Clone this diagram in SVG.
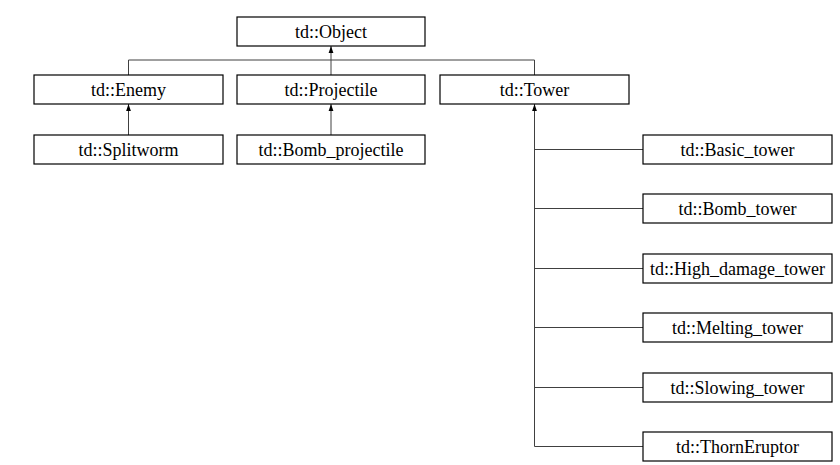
<svg xmlns="http://www.w3.org/2000/svg" width="840" height="465" viewBox="0 0 840 465">
<style>
.box{fill:#fff;stroke:#000;stroke-width:1.2}
.lbl{font-family:"Liberation Serif","DejaVu Serif","Times New Roman",serif;font-size:18px;fill:#000;text-anchor:middle}
.ln{fill:none;stroke:#404040;stroke-width:1}
</style>
<defs>
<marker id="ah" viewBox="0 0 7 6" refX="7" refY="3" markerWidth="7" markerHeight="6" markerUnits="userSpaceOnUse" orient="auto">
<path d="M7,3 L0,0.6 L0,5.4 Z" fill="#000"/>
</marker>
</defs>
<rect width="840" height="465" fill="#fff"/>
<g id="connectors">
<path class="ln" d="M128.5,75 V60 H534.5 V75 M331,75 V60" />
<path class="ln" d="M331,60 V46" marker-end="url(#ah)"/>
<path class="ln" d="M128.5,135 V104" marker-end="url(#ah)"/>
<path class="ln" d="M331,135 V104" marker-end="url(#ah)"/>
<path class="ln" d="M534.5,446.5 V104" marker-end="url(#ah)"/>
<path class="ln" d="M534.5,149.5 H643 M534.5,208.5 H643 M534.5,268.5 H643 M534.5,327.5 H643 M534.5,387.5 H643 M534.5,446.5 H643"/>
</g>
<g id="object"><rect class="box" x="237" y="17" width="188" height="29"/><text class="lbl" x="331" y="37.5">td::Object</text></g>
<g id="enemy"><rect class="box" x="34" y="75" width="189" height="29"/><text class="lbl" x="128.5" y="95.5">td::Enemy</text></g>
<g id="projectile"><rect class="box" x="237" y="75" width="188" height="29"/><text class="lbl" x="331" y="95.5">td::Projectile</text></g>
<g id="tower"><rect class="box" x="440" y="75" width="189" height="29"/><text class="lbl" x="534.5" y="95.5">td::Tower</text></g>
<g id="splitworm"><rect class="box" x="34" y="135" width="189" height="29"/><text class="lbl" x="128.5" y="155.5">td::Splitworm</text></g>
<g id="bomb_projectile"><rect class="box" x="237" y="135" width="188" height="29"/><text class="lbl" x="331" y="155.5">td::Bomb_projectile</text></g>
<g id="basic_tower"><rect class="box" x="643" y="135" width="189" height="29"/><text class="lbl" x="737.5" y="155.5">td::Basic_tower</text></g>
<g id="bomb_tower"><rect class="box" x="643" y="194" width="189" height="29"/><text class="lbl" x="737.5" y="214.5">td::Bomb_tower</text></g>
<g id="high_damage_tower"><rect class="box" x="643" y="254" width="189" height="29"/><text class="lbl" x="737.5" y="274.5">td::High_damage_tower</text></g>
<g id="melting_tower"><rect class="box" x="643" y="313" width="189" height="29"/><text class="lbl" x="737.5" y="333.5">td::Melting_tower</text></g>
<g id="slowing_tower"><rect class="box" x="643" y="373" width="189" height="29"/><text class="lbl" x="737.5" y="393.5">td::Slowing_tower</text></g>
<g id="thorneruptor"><rect class="box" x="643" y="432" width="189" height="29"/><text class="lbl" x="737.5" y="452.5">td::ThornEruptor</text></g>
</svg>
